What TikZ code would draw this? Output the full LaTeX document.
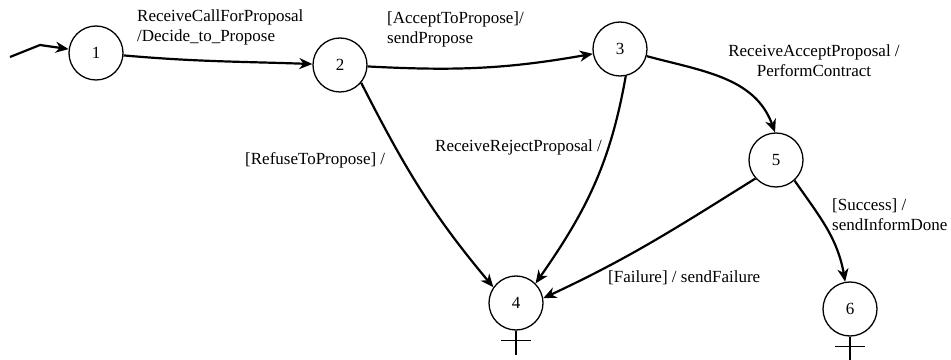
\documentclass[tikz,border=0pt]{standalone}
\usepackage{fontspec}
\setmainfont{Liberation Serif}
\usetikzlibrary{calc,arrows.meta}

\begin{document}
\begin{tikzpicture}[x=1pt,y=1pt]
\tikzstyle{state}=[draw, circle, line width=1.3pt, minimum size=54pt, inner sep=0pt, font=\fontsize{17}{20}\selectfont]
\tikzstyle{trans}=[-{Stealth[length=13pt,width=11pt,inset=4pt]}, line width=2.2pt]
\tikzstyle{lbl}=[align=left, anchor=west, inner sep=0pt, font=\fontsize{17}{20}\selectfont]
\useasboundingbox (0,0) rectangle (951,359);

% states
\node[state] (s1) at (96,306) {1};
\node[state] (s2) at (340,294) {2};
\node[state] (s3) at (620,310) {3};
\node[state] (s5) at (776,199) {5};
\node[state] (s4) at (516,56) {4};
\node[state] (s6) at (850,50) {6};

% final states get a cross
\foreach \s in {s4,s6} {
  \draw[line width=1.3pt] (\s.south) -- ++(0,-24);
  \draw[line width=1.3pt] ($(\s.south)+(-15,-10)$) -- ++(30,0);
}

% initial transition
\coordinate (in0) at (10,302);
\coordinate (in1) at (40,314);
\draw[trans] (in0) -- (in1) -- (s1);

% transitions
\draw[trans] (s1) to[out=-5,in=178] (s2);
\draw[trans] (s2) to[out=-3,in=190] (s3);
\draw[trans] (s3.-15) to[out=-15,in=110] (s5.92);
\draw[trans] (s2.-40) to[out=-63,in=130] (s4.145);
\draw[trans] (s3.-78) to[out=-100,in=55] (s4.45);
\draw[trans] (s5.222) to[out=212,in=25] (s4.10);
\draw[trans] (s5.-48) to[out=-55,in=100] (s6.100);

% labels on transitions
\node[lbl] (l12) at (137,332) {ReceiveCallForProposal\\/Decide\_to\_Propose};
\node[lbl] (l23) at (387,330) {[AcceptToPropose]/\\sendPropose};
\node[lbl,anchor=center,align=center] (l35) at (814,298) {ReceiveAcceptProposal /\\PerformContract};
\node[lbl] (l24) at (245,199) {[RefuseToPropose] /};
\node[lbl] (l34) at (435,212) {ReceiveRejectProposal /};
\node[lbl] (l54) at (608,81) {[Failure] / sendFailure};
\node[lbl] (l56) at (832,144) {[Success] /\\sendInformDone};

\end{tikzpicture}
\end{document}
